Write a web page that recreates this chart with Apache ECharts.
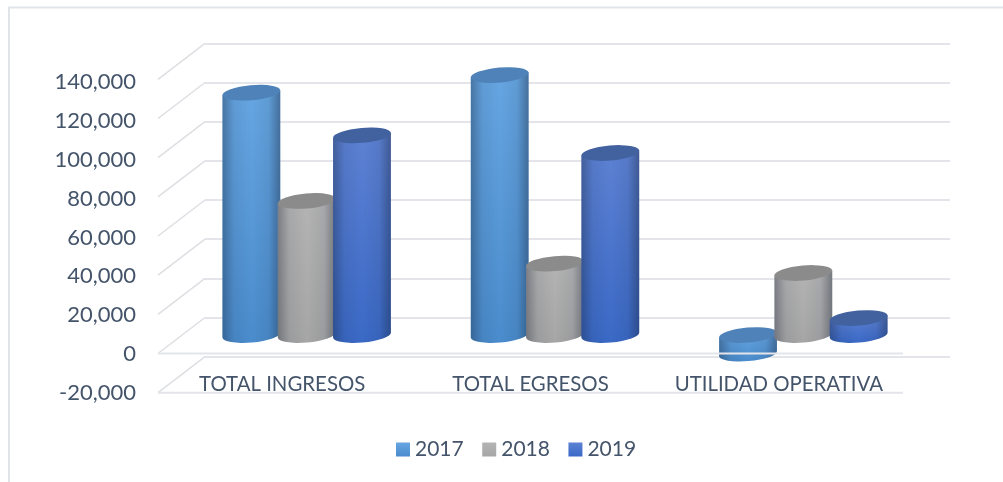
<!DOCTYPE html>
<html>
<head>
<meta charset="utf-8">
<style>
  html, body { margin: 0; padding: 0; background: #fff; }
  #chart { width: 1003px; height: 482px; }
</style>
<script src="https://cdn.jsdelivr.net/npm/echarts@6/dist/echarts.min.js"></script>
</head>
<body>
<div id="chart"></div>
<script>
const categories = ['TOTAL INGRESOS', 'TOTAL EGRESOS', 'UTILIDAD OPERATIVA'];
const values2017 = [123800, 132800, -9500];
const values2018 = [68500, 36500, 31700];
const values2019 = [102000, 93000, 8700];
const yTicks = [-20000, 0, 20000, 40000, 60000, 80000, 100000, 120000, 140000];
const floorTicks = [0, -20000];

const textColor = '#44546a';
const lineColor = '#e3e5ea';
// how far the front of the floor sits from the back wall
const depthX = 47;
const depthY = 36;

function vertical(top, bottom) {
  return {
    type: 'linear', x: 0, y: 0, x2: 0, y2: 1,
    colorStops: [{offset: 0, color: top}, {offset: 1, color: bottom}]
  };
}

const edgeShade = {
  type: 'linear', x: 0, y: 0, x2: 1, y2: 0,
  colorStops: [
    {offset: 0, color: 'rgba(20,30,50,0.36)'},
    {offset: 0.2, color: 'rgba(20,30,50,0.08)'},
    {offset: 0.5, color: 'rgba(20,30,50,0)'},
    {offset: 0.8, color: 'rgba(20,30,50,0.08)'},
    {offset: 1, color: 'rgba(20,30,50,0.4)'}
  ]
};

function cylinder(capColor, bodyColor) {
  return function (params, api) {
    const band = api.size([1, 0])[0];
    const rx = band * 0.1168;
    const ry = 7.5;
    const tilt = 5 * Math.PI / 180;
    const slot = params.seriesIndex - 1;
    const shift = (slot - 1) * band * 0.2227;
    const value = api.value(1);
    const top = api.coord([api.value(0), Math.max(value, 0)]);
    const bottom = api.coord([api.value(0), Math.min(value, 0)]);
    const cx = top[0] + shift;
    const ex = rx * Math.cos(tilt);
    const ey = rx * Math.sin(tilt);
    const arc = 'A' + rx + ' ' + ry + ' -5 0 ';
    const body = 'M' + (cx - ex) + ' ' + (top[1] + ey) +
      'L' + (cx - ex) + ' ' + (bottom[1] + ey) +
      arc + '0 ' + (cx + ex) + ' ' + (bottom[1] - ey) +
      'L' + (cx + ex) + ' ' + (top[1] - ey) + 'Z';
    const cap = 'M' + (cx - ex) + ' ' + (top[1] + ey) +
      arc + '1 ' + (cx + ex) + ' ' + (top[1] - ey) +
      arc + '1 ' + (cx - ex) + ' ' + (top[1] + ey) + 'Z';
    return {
      type: 'group',
      children: [
        {type: 'path', shape: {pathData: body}, style: {fill: bodyColor}},
        {type: 'path', shape: {pathData: body}, style: {fill: edgeShade}},
        {type: 'path', shape: {pathData: cap}, style: {fill: capColor}}
      ]
    };
  };
}

function barSeries(name, values, capColor, bodyColor) {
  return {
    name: name,
    type: 'custom',
    xAxisIndex: 2,
    yAxisIndex: 2,
    z: 3,
    itemStyle: {color: bodyColor},
    renderItem: cylinder(capColor, bodyColor),
    data: values.map((v, i) => [i, v])
  };
}

function hiddenY(extra) {
  return Object.assign({
    type: 'value',
    min: -20000,
    max: 140000,
    interval: 20000,
    axisLine: {show: false},
    axisTick: {show: false},
    axisLabel: {show: false},
    splitLine: {show: false}
  }, extra);
}

function hiddenX(gridIndex, extra) {
  return Object.assign({
    type: 'category',
    gridIndex: gridIndex,
    data: categories,
    axisLine: {show: false},
    axisTick: {show: false},
    axisLabel: {show: false}
  }, extra);
}

const option = {
  animation: false,
  backgroundColor: '#ffffff',
  graphic: [{
    type: 'polyline',
    silent: true,
    shape: {points: [[9, 482], [9, 7.5], [1003, 7.5]]},
    style: {fill: null, stroke: '#e1e5ea', lineWidth: 2}
  }],
  legend: {
    left: 391,
    top: 434,
    icon: 'rect',
    itemWidth: 14,
    itemHeight: 14,
    itemGap: 18.5,
    data: ['2017', '2018', '2019'],
    textStyle: {color: textColor, fontFamily: 'Lato', fontSize: 21}
  },
  grid: [
    {left: 158, width: 745, top: 82, height: 311},     // front, carries the labels
    {left: 205, width: 745, top: 43.3, height: 313.4}, // back wall
    {left: 182.5, width: 745, top: 61, height: 313.2}  // where the cylinders stand
  ],
  xAxis: [
    hiddenX(0, {
      offset: -39,
      axisLabel: {
        show: true,
        interval: 0,
        margin: 20,
        color: textColor,
        fontFamily: 'Lato',
        fontSize: 20.4
      }
    }),
    hiddenX(1),
    hiddenX(2)
  ],
  yAxis: [
    hiddenY({
      gridIndex: 0,
      axisLabel: {
        show: true,
        margin: 22,
        color: textColor,
        fontFamily: 'Lato',
        fontSize: 22,
        formatter: v => v.toLocaleString('en-US')
      }
    }),
    hiddenY({
      gridIndex: 1,
      splitLine: {show: true, lineStyle: {color: lineColor, width: 2}}
    }),
    hiddenY({gridIndex: 2})
  ],
  series: [
    {
      // diagonals from the back wall out to the front of the chart
      type: 'custom',
      xAxisIndex: 1,
      yAxisIndex: 1,
      silent: true,
      z: 1,
      renderItem: function (params, api) {
        const p = api.coord([0, api.value(1)]);
        const x = params.coordSys.x;
        return {
          type: 'line',
          shape: {x1: x, y1: p[1], x2: x - depthX, y2: p[1] + depthY},
          style: {stroke: '#dedfe3', lineWidth: 1.5}
        };
      },
      data: yTicks.map(t => [0, t])
    },
    barSeries('2017', values2017, '#4f82b8', vertical('#66a6e2', '#4a8ccd')),
    barSeries('2018', values2018, '#8b8b8b', vertical('#b4b4b4', '#a6a6a6')),
    barSeries('2019', values2019, '#41619f', vertical('#5d82d4', '#3a69c6')),
    {
      // floor front edges, drawn over the cylinders
      type: 'custom',
      xAxisIndex: 1,
      yAxisIndex: 1,
      silent: true,
      z: 4,
      renderItem: function (params, api) {
        const p = api.coord([0, api.value(1)]);
        const c = params.coordSys;
        return {
          type: 'line',
          shape: {
            x1: c.x - depthX, y1: p[1] + depthY,
            x2: c.x + c.width - depthX, y2: p[1] + depthY
          },
          style: {stroke: lineColor, lineWidth: 2}
        };
      },
      data: floorTicks.map(t => [0, t])
    }
  ]
};

const chart = echarts.init(document.getElementById('chart'));
chart.setOption(option);
</script>
</body>
</html>
